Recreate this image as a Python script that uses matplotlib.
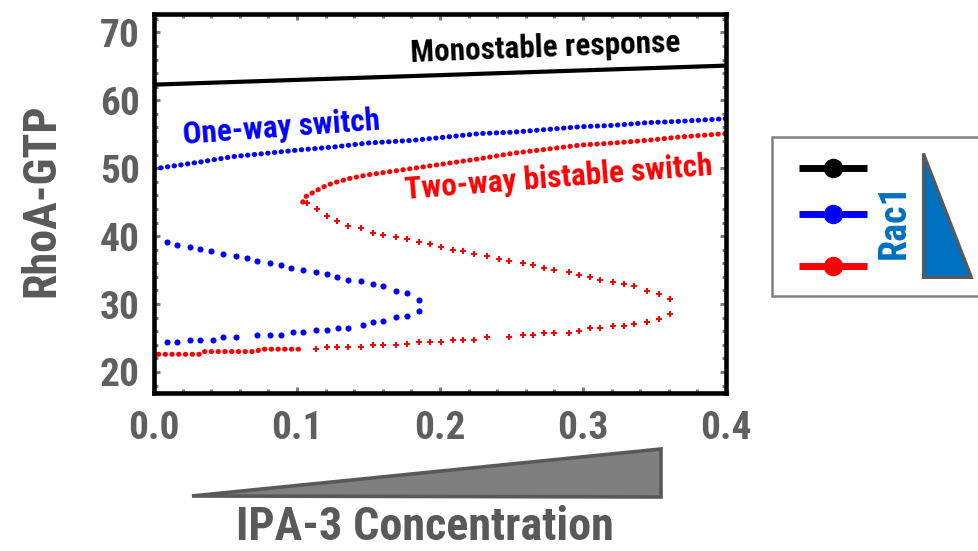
import numpy as np
import matplotlib
matplotlib.use('Agg')
import matplotlib.pyplot as plt
from matplotlib import font_manager
from matplotlib.ticker import MultipleLocator
from matplotlib.patches import Polygon, Rectangle
from matplotlib.lines import Line2D

# the original uses Arial Narrow Bold; take the closest narrow face we have
# (name, width relative to Arial Narrow)
candidates = [('Liberation Sans Narrow', 1.0), ('Arial Narrow', 1.0),
              ('Roboto Condensed', 1.03), ('Noto Sans Condensed', 1.05),
              ('Open Sans Condensed', 1.0), ('DejaVu Sans Condensed', 1.3),
              ('Liberation Sans', 1.22)]
installed = set(f.name for f in font_manager.fontManager.ttflist)
FONT, WF = 'DejaVu Sans', 1.45
for name, wf in candidates:
    if name in installed:
        FONT, WF = name, wf
        break
K = (1.0 / WF) ** 0.75   # shrink wide fonts a bit so text keeps its footprint

plt.rcParams['font.family'] = [FONT, 'DejaVu Sans']
plt.rcParams['font.weight'] = 'bold'

# ---- data ------------------------------------------------------------------
mono_x = [0.0, 0.4]
mono_y = [62.3, 65.1]

blue_hi_x = [0.0, 0.032, 0.055, 0.079, 0.102, 0.125, 0.149, 0.181, 0.205, 0.228,
             0.251, 0.275, 0.298, 0.321, 0.345, 0.368, 0.4]
blue_hi_y = [49.9, 50.9, 51.7, 52.2, 52.7, 53.1, 53.7, 54.1, 54.6, 55.1,
             55.3, 55.7, 56.1, 56.3, 56.7, 56.9, 57.3]

blue_lo_x = [0.009, 0.016, 0.025, 0.032, 0.041, 0.048, 0.057, 0.072, 0.081, 0.089,
             0.097, 0.104, 0.113, 0.121, 0.129, 0.136, 0.146, 0.153, 0.160, 0.169,
             0.177, 0.185]
blue_lo_y = [24.4, 24.4, 24.7, 24.7, 24.7, 25.1, 25.1, 25.4, 25.4, 25.4,
             25.9, 25.9, 26.2, 26.2, 26.4, 26.4, 26.9, 27.3, 27.5, 28.1,
             28.2, 28.9]

blue_mid_x = [0.185, 0.177, 0.169, 0.160, 0.153, 0.145, 0.136, 0.128, 0.121, 0.113,
              0.104, 0.096, 0.089, 0.081, 0.072, 0.065, 0.057, 0.048, 0.040, 0.032,
              0.025, 0.016, 0.009]
blue_mid_y = [30.6, 31.6, 31.9, 32.6, 33.0, 33.4, 33.6, 34.0, 34.4, 34.7,
              35.0, 35.3, 35.7, 36.1, 36.4, 36.8, 37.0, 37.4, 37.8, 38.1,
              38.4, 38.7, 39.1]

red_hi_x = [0.104, 0.106, 0.111, 0.118, 0.125, 0.137, 0.149, 0.172, 0.205, 0.228,
            0.251, 0.275, 0.298, 0.321, 0.345, 0.368, 0.4]
red_hi_y = [45.0, 45.8, 46.4, 47.2, 47.8, 48.5, 49.0, 49.7, 50.7, 51.4,
            52.2, 52.8, 53.4, 53.7, 54.1, 54.6, 55.1]

red_mid_x = [0.107, 0.114, 0.121, 0.128, 0.136, 0.145, 0.153, 0.160, 0.169, 0.177,
             0.185, 0.193, 0.201, 0.209, 0.216, 0.224, 0.233, 0.241, 0.248, 0.258,
             0.265, 0.273, 0.280, 0.290, 0.297, 0.305, 0.312, 0.321, 0.329, 0.336,
             0.345, 0.353, 0.361]
red_mid_y = [44.9, 44.0, 42.9, 42.2, 41.5, 41.2, 40.5, 40.2, 39.8, 39.5,
             39.1, 38.8, 38.4, 38.0, 37.8, 37.4, 37.0, 36.7, 36.3, 36.1,
             35.7, 35.3, 35.0, 34.7, 34.3, 34.0, 33.6, 33.3, 32.9, 32.6,
             31.9, 31.5, 30.8]

red_lo_x = [0.361, 0.353, 0.345, 0.336, 0.329, 0.321, 0.312, 0.305, 0.297, 0.290,
            0.280, 0.273, 0.265, 0.258, 0.248, 0.233, 0.224, 0.216, 0.209, 0.201,
            0.193, 0.185, 0.177, 0.169, 0.160, 0.153, 0.145, 0.136, 0.128, 0.121,
            0.113]
red_lo_y = [28.5, 27.8, 27.4, 27.0, 26.8, 26.8, 26.4, 26.4, 26.1, 25.8,
            25.7, 25.7, 25.4, 25.4, 25.1, 25.1, 24.7, 24.7, 24.7, 24.4,
            24.4, 24.4, 24.1, 24.0, 24.0, 24.0, 23.7, 23.7, 23.7, 23.7,
            23.4]

red_base_x = [0.003, 0.032, 0.034, 0.072, 0.074, 0.104]
red_base_y = [22.6, 22.6, 23.0, 23.0, 23.35, 23.35]

xticks = [0.0, 0.1, 0.2, 0.3, 0.4]
yticks = [20, 30, 40, 50, 60, 70]

BLUE = '#0000ff'
RED = '#ff0000'
GREY = '#5f5f5f'
#=============================================================================

W, H = 979, 551
fig = plt.figure(figsize=(W/100, H/100), dpi=100)
ax = fig.add_axes([154/W, 1-393/H, (726-154)/W, (393-14)/H])

ax.plot(mono_x, mono_y, color='black', lw=3.0, solid_capstyle='butt')

dotted = (0, (0.1, 1.25))
ax.plot(blue_hi_x, blue_hi_y, color=BLUE, lw=3.6, ls=dotted, dash_capstyle='round')
ax.plot(red_hi_x, red_hi_y, color=RED, lw=3.6, ls=dotted, dash_capstyle='round')
ax.plot(red_base_x, red_base_y, color=RED, lw=3.6, ls=dotted, dash_capstyle='round')

ax.plot(blue_lo_x, blue_lo_y, 'o', color=BLUE, ms=4.4, mew=0)
ax.plot(blue_mid_x, blue_mid_y, 'o', color=BLUE, ms=4.4, mew=0)
ax.plot(red_mid_x, red_mid_y, 'P', color=RED, ms=4.8, mew=0)
ax.plot(red_lo_x, red_lo_y, 'P', color=RED, ms=4.8, mew=0)

ax.text(0.274, 67.7, 'Monostable response', color='black', fontsize=23*K,
        ha='center', va='center', rotation=2.2)
ax.text(0.089, 56.0, 'One-way switch', color=BLUE, fontsize=23*K,
        ha='center', va='center', rotation=4.2)
ax.text(0.283, 48.5, 'Two-way bistable switch', color=RED, fontsize=23*K,
        ha='center', va='center', rotation=4.5)

ax.set_xlim(0, 0.4)
ax.set_ylim(16.9, 72.7)
ax.set_xticks(xticks)
ax.set_xticklabels(['%.1f' % v for v in xticks])
ax.set_yticks(yticks)
ax.xaxis.set_minor_locator(MultipleLocator(0.02))
ax.yaxis.set_minor_locator(MultipleLocator(2))

for s in ax.spines.values():
    s.set_linewidth(3.3)
    s.set_color('black')

ax.tick_params(which='both', direction='in', top=True, right=True,
               color='#808080', width=2.2)
ax.tick_params(which='major', length=4)
ax.tick_params(which='minor', length=3)
ax.tick_params(axis='x', pad=12, labelsize=29*K, labelcolor=GREY)
ax.tick_params(axis='y', pad=10, labelsize=29*K, labelcolor=GREY)

fig.text(41/W, 1-200/H, 'RhoA-GTP', rotation=90, ha='center', va='center',
         fontsize=34*K, color='#595959')
fig.text(425/W, 1-527/H, 'IPA-3 Concentration', ha='center', va='center',
         fontsize=34*K, color='#595959')

# grey wedge under the x axis
fig.patches.append(Polygon([(192/W, 1-496/H), (661/W, 1-449/H), (661/W, 1-497/H)],
                           closed=True, transform=fig.transFigure,
                           facecolor='#7f7f7f', edgecolor='#595959', lw=2.6,
                           joinstyle='miter'))

# legend box on the right
fig.patches.append(Rectangle((772/W, 1-296/H), 220/W, 159/H, transform=fig.transFigure,
                             facecolor='white', edgecolor='#808080', lw=1.8))
for yy, c in [(168, 'black'), (214, BLUE), (266, RED)]:
    fig.lines.append(Line2D([799/W, 867/W], [1-yy/H, 1-yy/H], transform=fig.transFigure,
                            color=c, lw=5, solid_capstyle='butt'))
    fig.lines.append(Line2D([833/W], [1-yy/H], transform=fig.transFigure,
                            marker='o', ms=14, color=c, mew=0))
fig.text(894/W, 1-221/H, 'Rac1', rotation=90, ha='center', va='center',
         fontsize=28*K, color='#0070c0')
fig.patches.append(Polygon([(923/W, 1-153/H), (923/W, 1-277/H), (971/W, 1-277/H)],
                           closed=True, transform=fig.transFigure,
                           facecolor='#0070c0', edgecolor='#595959', lw=2.2,
                           joinstyle='miter'))

plt.savefig('out.png', dpi=100)
